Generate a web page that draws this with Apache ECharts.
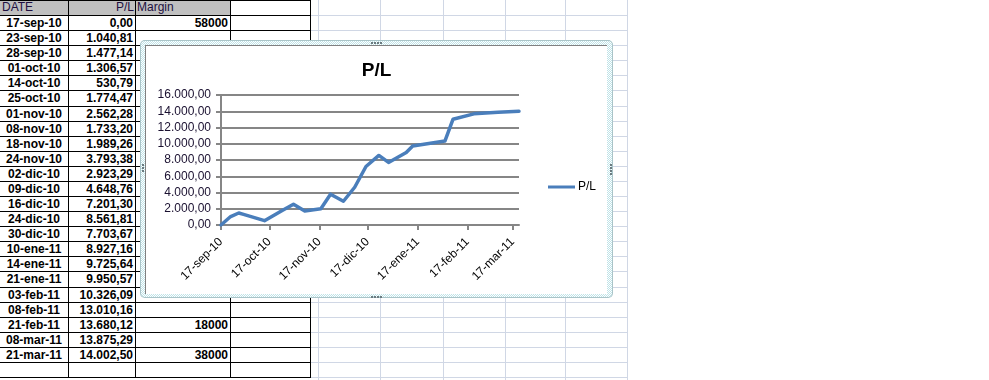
<!DOCTYPE html>
<html>
<head>
<meta charset="utf-8">
<script src="https://cdn.jsdelivr.net/npm/echarts@6/dist/echarts.min.js"></script>
<style>
html,body{margin:0;padding:0;background:#fff;width:989px;height:380px;overflow:hidden;position:relative;}
.l{position:absolute;}
.cell{position:absolute;font-family:"Liberation Sans",Arial,sans-serif;font-size:12px;line-height:15px;white-space:nowrap;color:#000;}
#frame{position:absolute;left:140px;top:40px;width:473px;height:258px;border-radius:5px;
  background:repeating-conic-gradient(#bfe3e8 0 25%,#ffffff 0 50%) 0 0/2px 2px;box-shadow:inset 0 0 0 1px #a9c4c8;}
#inner{position:absolute;left:145px;top:45px;width:460px;height:247px;border:1px solid #808080;background:#fff;}
#chart{position:absolute;left:146px;top:46px;width:461px;height:248px;}
.dot{position:absolute;width:2px;height:2px;background:#6b7b80;}
</style>
</head>
<body>
<div id="sheet"></div>
<div id="frame"></div>
<div id="inner"></div>
<div id="chart"></div>
<script>
// ---- data ----
const dates = ['2010-09-17','2010-09-23','2010-09-28','2010-10-01','2010-10-14','2010-10-25','2010-11-01','2010-11-08','2010-11-18','2010-11-24','2010-12-02','2010-12-09','2010-12-16','2010-12-24','2010-12-30','2011-01-10','2011-01-14','2011-01-21','2011-02-03','2011-02-08','2011-02-21','2011-03-08','2011-03-21'];
const plValues = [0.00,1040.81,1477.14,1306.57,530.79,1774.47,2562.28,1733.20,1989.26,3793.38,2923.29,4648.76,7201.30,8561.81,7703.67,8927.16,9725.64,9950.57,10326.09,13010.16,13680.12,13875.29,14002.50];
const marginValues = [58000,null,null,null,null,null,null,null,null,null,null,null,null,null,null,null,null,null,null,null,18000,null,38000];
const headers = ['DATE','P/L','Margin'];
const monthAbbr = ['ene','feb','mar','abr','may','jun','jul','ago','sep','oct','nov','dic'];
const xTickDates = ['2010-09-17','2010-10-17','2010-11-17','2010-12-17','2011-01-17','2011-02-17','2011-03-17'];
const xMinDate = '2010-09-17';
const xMaxDate = '2011-03-21';
const yMin = 0, yMax = 16000, yStep = 2000;
const chartTitle = 'P/L';
const seriesName = 'P/L';

// ---- helpers ----
function toTs(s){const p=s.split('-').map(Number);return new Date(p[0],p[1]-1,p[2]).getTime();}
function pad(n){return (n<10?'0':'')+n;}
function fmtDate(ts){const d=new Date(ts);return pad(d.getDate())+'-'+monthAbbr[d.getMonth()]+'-'+pad(d.getFullYear()%100);}
function fmtNum(v){const s=v.toFixed(2).split('.');return s[0].replace(/\B(?=(\d{3})+(?!\d))/g,'.')+','+s[1];}

// ---- spreadsheet background ----
const sheet=document.getElementById('sheet');
const RH=15.08;
const colX=[0,68,135,230,310];
function add(cls,style,text){const e=document.createElement('div');e.className=cls;Object.assign(e.style,style);if(text!==undefined)e.textContent=text;sheet.appendChild(e);return e;}
const lightX=[318,380,443,505,565,627];
for(let k=1;k<=25;k++){const y=Math.round(k*RH);add('l',{left:'310px',top:y+'px',width:'318px',height:'1px',background:'#d0d7e5'});}
lightX.forEach(x=>add('l',{left:x+'px',top:'0px',width:'1px',height:'380px',background:'#d0d7e5'}));
add('l',{left:'0px',top:'0px',width:'230px',height:'15px',background:'#c0c0c0'});
for(let k=0;k<=25;k++){const y=Math.round(k*RH);add('l',{left:'0px',top:y+'px',width:'311px',height:'1px',background:'#000'});}
colX.slice(1).forEach(x=>add('l',{left:x+'px',top:'0px',width:'1px',height:'378px',background:'#000'}));
const hdrStyle={fontSize:'12px',color:'#201040'};
add('cell',Object.assign({left:'2px',top:'0px'},hdrStyle),headers[0]);
add('cell',Object.assign({left:'68px',top:'0px',width:'66px',textAlign:'right'},hdrStyle),headers[1]);
add('cell',Object.assign({left:'137px',top:'0px'},hdrStyle),headers[2]);
dates.forEach((d,i)=>{
  const top=Math.round((i+1)*RH)+1;
  add('cell',{left:'0px',top:top+'px',width:'68px',textAlign:'center',fontWeight:'bold'},fmtDate(toTs(d)));
  add('cell',{left:'68px',top:top+'px',width:'65px',textAlign:'right',fontWeight:'bold'},fmtNum(plValues[i]));
  if(marginValues[i]!==null) add('cell',{left:'135px',top:top+'px',width:'93px',textAlign:'right',fontWeight:'bold'},String(marginValues[i]));
});
[[371,42],[374,42],[377,42],[380,42],[371,296],[374,296],[377,296],[380,296],[610,164],[610,167],[610,170],[610,173],[142,164],[142,167],[142,170]].forEach(p=>{
  const e=document.createElement('div');e.className='dot';e.style.left=p[0]+'px';e.style.top=p[1]+'px';document.body.appendChild(e);
});

// ---- chart ----
const chart=echarts.init(document.getElementById('chart'),null,{renderer:'canvas'});
const gray='#868686';
const lineColor='#4a7ebb';
const tickTs=xTickDates.map(toTs);
chart.setOption({
  animation:false,
  backgroundColor:'#fff',
  title:{text:chartTitle,left:'center',top:10,textStyle:{fontFamily:'"Liberation Sans",sans-serif',fontSize:19,fontWeight:'bold',color:'#000'}},
  legend:{data:[seriesName],left:402,top:135,padding:0,icon:'rect',itemWidth:27,itemHeight:3,
    itemStyle:{color:lineColor},
    textStyle:{fontFamily:'"Liberation Sans",sans-serif',fontSize:12,color:'#000',padding:[0,0,0,-2]}},
  grid:{left:75,top:49,right:88,bottom:69,outerBoundsMode:'none'},
  xAxis:{type:'value',min:toTs(xMinDate),max:toTs(xMaxDate),
    axisLine:{show:true,onZero:false,lineStyle:{color:gray,width:2}},
    axisTick:{show:true,customValues:tickTs,length:5,lineStyle:{color:gray,width:2}},
    axisLabel:{show:true,customValues:tickTs,rotate:45,margin:15,fontFamily:'"Liberation Sans",sans-serif',fontSize:12,color:'#000',
      formatter:function(v){return fmtDate(v);}},
    splitLine:{show:false}},
  yAxis:{type:'value',min:yMin,max:yMax,interval:yStep,
    axisLine:{show:true,lineStyle:{color:gray,width:2}},
    axisTick:{show:true,length:5,lineStyle:{color:gray,width:2}},
    axisLabel:{margin:10,fontFamily:'"Liberation Sans",sans-serif',fontSize:12,color:'#1a1030',formatter:function(v){return fmtNum(v);}},
    splitLine:{show:true,lineStyle:{color:gray,width:2}}},
  series:[{name:seriesName,type:'line',symbol:'none',
    data:dates.map((d,i)=>[toTs(d),plValues[i]]),
    lineStyle:{color:lineColor,width:3.5,join:'round',cap:'round'},itemStyle:{color:lineColor}}]
});
</script>
</body>
</html>
